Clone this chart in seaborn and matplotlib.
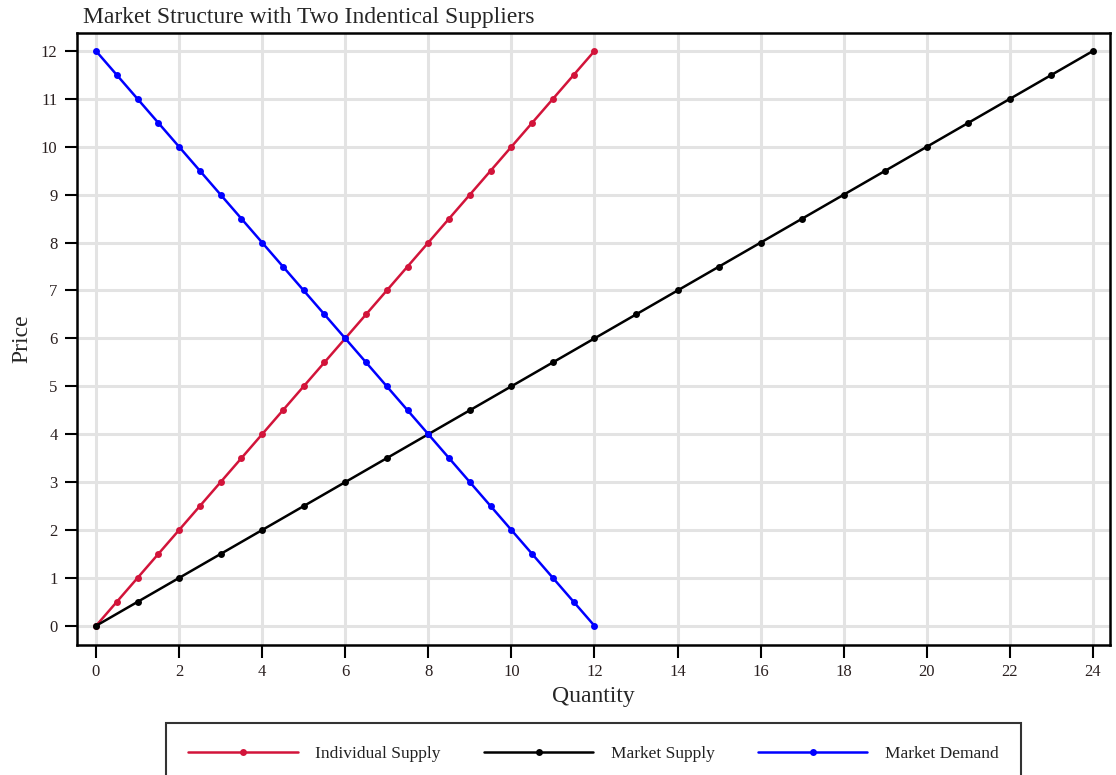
import matplotlib
matplotlib.use("Agg")
import matplotlib.pyplot as plt
import seaborn as sns
import pandas as pd

# Data
ind_q = [0, 0.5, 1, 1.5, 2, 2.5, 3, 3.5, 4, 4.5, 5, 5.5, 6, 6.5, 7, 7.5, 8, 8.5, 9, 9.5, 10, 10.5, 11, 11.5, 12]
ind_p = [0, 0.5, 1, 1.5, 2, 2.5, 3, 3.5, 4, 4.5, 5, 5.5, 6, 6.5, 7, 7.5, 8, 8.5, 9, 9.5, 10, 10.5, 11, 11.5, 12]
mkt_q = [0, 1, 2, 3, 4, 5, 6, 7, 8, 9, 10, 11, 12, 13, 14, 15, 16, 17, 18, 19, 20, 21, 22, 23, 24]
mkt_p = [0, 0.5, 1, 1.5, 2, 2.5, 3, 3.5, 4, 4.5, 5, 5.5, 6, 6.5, 7, 7.5, 8, 8.5, 9, 9.5, 10, 10.5, 11, 11.5, 12]
dem_q = [0, 0.5, 1, 1.5, 2, 2.5, 3, 3.5, 4, 4.5, 5, 5.5, 6, 6.5, 7, 7.5, 8, 8.5, 9, 9.5, 10, 10.5, 11, 11.5, 12]
dem_p = [12, 11.5, 11, 10.5, 10, 9.5, 9, 8.5, 8, 7.5, 7, 6.5, 6, 5.5, 5, 4.5, 4, 3.5, 3, 2.5, 2, 1.5, 1, 0.5, 0]
series_names = ["Individual Supply", "Market Supply", "Market Demand"]
x_ticks = [0, 2, 4, 6, 8, 10, 12, 14, 16, 18, 20, 22, 24]
y_ticks = [0, 1, 2, 3, 4, 5, 6, 7, 8, 9, 10, 11, 12]

df = pd.concat([
    pd.DataFrame({"Quantity": ind_q, "Price": ind_p, "series": series_names[0]}),
    pd.DataFrame({"Quantity": mkt_q, "Price": mkt_p, "series": series_names[1]}),
    pd.DataFrame({"Quantity": dem_q, "Price": dem_p, "series": series_names[2]}),
])

sns.set_style("white")
plt.rcParams["font.family"] = ["Liberation Serif", "DejaVu Serif"]

fig = plt.figure(figsize=(11.16, 7.75), dpi=100)
ax = fig.add_axes([77/1116, 1 - 645/775, (1110-77)/1116, (645-33)/775])

palette = {series_names[0]: "#D2143A", series_names[1]: "#000000", series_names[2]: "#0000FF"}
sns.lineplot(data=df, x="Quantity", y="Price", hue="series", palette=palette,
             marker="o", markersize=5, markeredgewidth=0, linewidth=1.8,
             sort=False, estimator=None, ax=ax, legend=True, zorder=3)

ax.set_xlim(-0.457, 24.41)
ax.set_ylim(-0.40, 12.375)
ax.set_xticks(x_ticks)
ax.set_yticks(y_ticks)
ax.grid(True, color="#E3E3E3", linewidth=2.2, zorder=0)
ax.set_axisbelow(True)
for s in ax.spines.values():
    s.set_visible(True)
    s.set_color("black")
    s.set_linewidth(1.8)
ax.tick_params(axis="both", direction="out", length=9, width=1.5, color="black",
               labelsize=12, labelcolor="#2a2020", pad=5, left=True, bottom=True)
ax.set_xlabel("Quantity", fontsize=17, labelpad=4)
ax.set_ylabel("Price", fontsize=17, labelpad=6)
fig.text(83/1116, 1 - 17/775, "Market Structure with Two Indentical Suppliers",
         fontsize=17, va="center", ha="left")

handles, labels = ax.get_legend_handles_labels()
leg = ax.legend(handles, labels, loc="upper center", bbox_to_anchor=(0.5, -0.1275),
                borderaxespad=0, ncol=3, frameon=True, fancybox=False, edgecolor="black",
                fontsize=12.5, handlelength=6.3, columnspacing=2.5, handletextpad=1.0,
                borderpad=1.3, markerscale=1.0)
leg.get_frame().set_linewidth(1.5)
for t in leg.get_texts():
    t.set_color("#222222")

fig.savefig("out.png", dpi=100)
